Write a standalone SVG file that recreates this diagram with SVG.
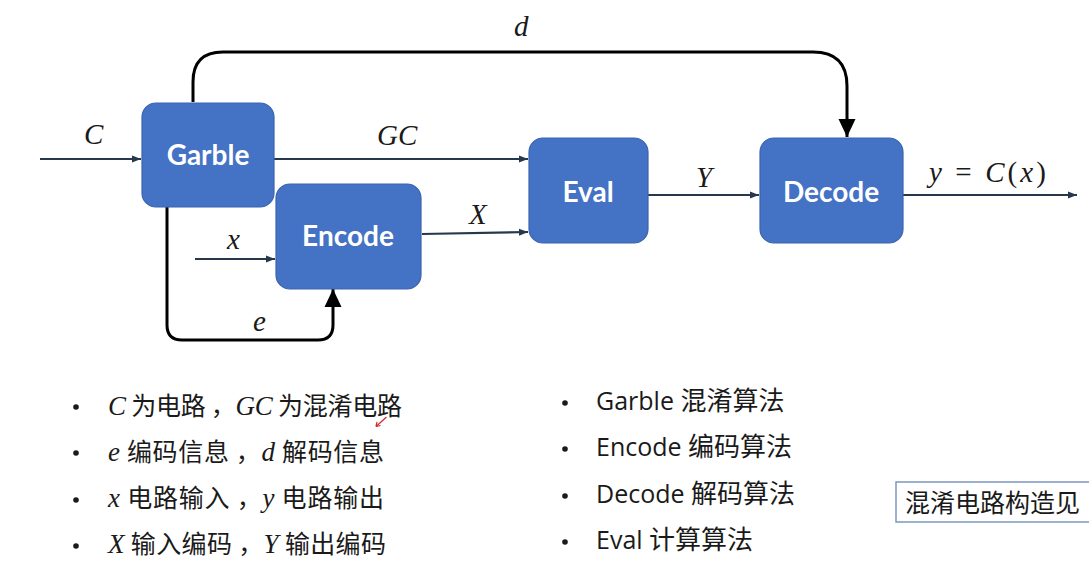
<svg xmlns="http://www.w3.org/2000/svg" width="1089" height="568" viewBox="0 0 1089 568">
<style>
.box{fill:#4472c4;stroke:#3a64b0;stroke-width:1.2}
.bl{font-family:Lato,"Liberation Sans",sans-serif;font-weight:bold;font-size:28px;fill:#ffffff;text-anchor:middle}
.thin{fill:none;stroke:#27384d;stroke-width:2.2}
.thick{fill:none;stroke:#000000;stroke-width:3}
.m{font-family:"Liberation Serif",serif;font-style:italic;font-size:29px;fill:#1a1a1a}
.t{font-family:"Noto Sans CJK SC",sans-serif;font-size:25px;fill:#1a1a1a}
.r{font-family:"Open Sans","Noto Sans CJK SC",sans-serif;font-size:25px;fill:#1a1a1a}
.c{font-family:"Noto Sans CJK SC",sans-serif;font-size:26px}
.mi{font-family:"Liberation Serif",serif;font-style:italic;font-size:27px}
.dot{fill:#1a1a1a}
</style>
<defs>
<marker id="sa" markerUnits="userSpaceOnUse" markerWidth="10" markerHeight="10" refX="9" refY="5" orient="auto">
<path d="M0,1.5 L9,5 L0,8.5 z" fill="#27384d"/>
</marker>
<marker id="ba" markerUnits="userSpaceOnUse" markerWidth="20" markerHeight="20" refX="18" refY="9" orient="auto">
<path d="M0,0.5 L18,9 L0,17.5 z" fill="#000000"/>
</marker>
</defs>
<rect width="1089" height="568" fill="#ffffff"/>
<g id="connectors">
<path class="thin" d="M40,159 H141" marker-end="url(#sa)"/>
<path class="thin" d="M274,159 H528" marker-end="url(#sa)"/>
<path class="thin" d="M195,259 H275" marker-end="url(#sa)"/>
<path class="thin" d="M422,234 L528,232" marker-end="url(#sa)"/>
<path class="thin" d="M648,195 H759" marker-end="url(#sa)"/>
<path class="thin" d="M903,195 H1077" marker-end="url(#sa)"/>
<path class="thick" d="M193,102 V82 Q193,52 223,52 H813 Q847,52 847,86 V137" marker-end="url(#ba)"/>
<path class="thick" d="M167,207 V325 Q167,340 182,340 H318 Q333,340 333,325 V289" marker-end="url(#ba)"/>
<text class="m" x="514" y="36">d</text>
<text class="m" x="84" y="144">C</text>
<text class="m" x="377" y="145">GC</text>
<text class="m" x="227" y="249">x</text>
<text class="m" x="253" y="331">e</text>
<text class="m" x="469" y="224">X</text>
<text class="m" x="696" y="187">Y</text>
<text class="m" x="929" y="182" font-size="30" textLength="117" lengthAdjust="spacing">y <tspan font-style="normal">=</tspan> C<tspan font-style="normal">(</tspan>x<tspan font-style="normal">)</tspan></text>
</g>
<g id="garble"><rect class="box" x="142" y="103" width="132" height="104" rx="14"/><text class="bl" x="208" y="165">Garble</text></g>
<g id="encode"><rect class="box" x="276" y="184" width="145" height="105" rx="14"/><text class="bl" x="348" y="246">Encode</text></g>
<g id="eval"><rect class="box" x="529" y="138" width="119" height="105" rx="14"/><text class="bl" x="588" y="202">Eval</text></g>
<g id="decode"><rect class="box" x="760" y="138" width="143" height="105" rx="14"/><text class="bl" x="831" y="202">Decode</text></g>
<g id="notes-left">
<circle class="dot" cx="76" cy="407" r="2.8"/>
<circle class="dot" cx="76" cy="453" r="2.8"/>
<circle class="dot" cx="76" cy="500" r="2.8"/>
<circle class="dot" cx="76" cy="546" r="2.8"/>
<text class="t" x="108" y="415" textLength="294" lengthAdjust="spacing"><tspan class="mi">C</tspan> 为电路 ，<tspan class="mi">GC</tspan> 为混淆电路</text>
<text class="t" x="108" y="461" textLength="276" lengthAdjust="spacing"><tspan class="mi">e</tspan> 编码信息 ，<tspan class="mi">d</tspan> 解码信息</text>
<text class="t" x="108" y="507" textLength="276" lengthAdjust="spacing"><tspan class="mi">x</tspan> 电路输入 ，<tspan class="mi">y</tspan> 电路输出</text>
<text class="t" x="108" y="553" textLength="278" lengthAdjust="spacing"><tspan class="mi">X</tspan> 输入编码 ，<tspan class="mi">Y</tspan> 输出编码</text>
</g>
<g id="notes-right">
<circle class="dot" cx="565" cy="403" r="2.8"/>
<circle class="dot" cx="565" cy="449" r="2.8"/>
<circle class="dot" cx="565" cy="496" r="2.8"/>
<circle class="dot" cx="565" cy="542" r="2.8"/>
<text class="r" x="596" y="410">Garble <tspan class="c">混淆算法</tspan></text>
<text class="r" x="596" y="456">Encode <tspan class="c">编码算法</tspan></text>
<text class="r" x="596" y="503">Decode <tspan class="c">解码算法</tspan></text>
<text class="r" x="596" y="549">Eval <tspan class="c">计算算法</tspan></text>
</g>
<g id="callout">
<rect x="896" y="482" width="200" height="40" fill="#ffffff" stroke="#7f97c0" stroke-width="1.5"/>
<text class="t" x="905" y="512" font-size="25.5">混淆电路构造见</text>
</g>
<g id="pen-mark">
<path d="M386.5,417 L376,426.5" stroke="#d0282e" stroke-width="1.2" fill="none"/>
<path d="M376,426.5 L377,422 M376,426.5 L380.5,425.5" stroke="#d0282e" stroke-width="1.2" fill="none"/>
</g>
</svg>
